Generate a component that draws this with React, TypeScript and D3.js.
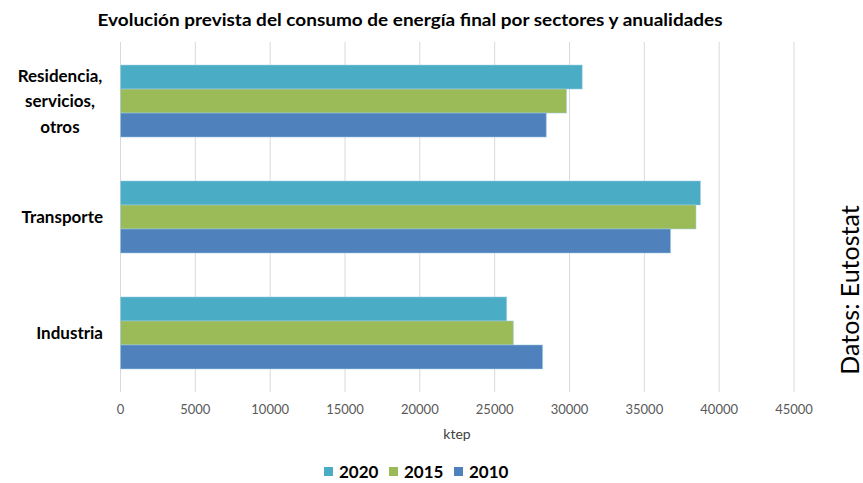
import React from "react";
import * as d3 from "d3";

const categories = ["Residencia, servicios, otros", "Transporte", "Industria"];
const categoryLines = [["Residencia,", "servicios,", "otros"], ["Transporte"], ["Industria"]];
const seriesNames = ["2020", "2015", "2010"];
const values2020 = [30850, 38750, 25800];
const values2015 = [29800, 38450, 26250];
const values2010 = [28450, 36750, 28200];
const seriesColors = ["#4BACC6", "#9BBB59", "#4F81BD"];
const xTicks = [0, 5000, 10000, 15000, 20000, 25000, 30000, 35000, 40000, 45000];

const W = 863, H = 483;
const font = "Lato, 'Open Sans', sans-serif";

export default function App() {
  const seriesValues = [values2020, values2015, values2010];
  const x = d3.scaleLinear().domain([0, 45000]).range([120.5, 794]);
  const y = d3.scaleBand().domain(categories).range([43, 391]).paddingInner(0.379).paddingOuter(0.19);
  const ys = d3.scaleBand().domain(seriesNames).range([0, y.bandwidth()]);
  const legendX = [324, 389, 454];

  return (
    <svg width={W} height={H} style={{ position: "absolute", left: 0, top: 0, background: "#fff" }}>
      <text x={410} y={26} textAnchor="middle" fontFamily={font} fontWeight="bold" fontSize={17}
        textLength={625} lengthAdjust="spacingAndGlyphs" fill="#000">
        Evolución prevista del consumo de energía final por sectores y anualidades
      </text>
      {xTicks.map((t) => (
        <g key={t}>
          <line x1={x(t)} x2={x(t)} y1={42} y2={392} stroke="#d9d9d9" strokeWidth={1} />
          <text x={x(t)} y={414} textAnchor="middle" fontFamily={font} fontSize={13} fill="#595959">{t}</text>
        </g>
      ))}
      {categories.map((c, ci) => (
        <g key={c}>
          {seriesNames.map((s, si) => (
            <rect key={s} x={x(0)} y={(y(c) ?? 0) + (ys(s) ?? 0)} width={x(seriesValues[si][ci]) - x(0)}
              height={ys.bandwidth()} fill={seriesColors[si]} stroke="#9fd0e6" strokeOpacity={0.5} strokeWidth={1} />
          ))}
          {categoryLines[ci].length > 1 ? (
            categoryLines[ci].map((ln, li) => (
              <text key={li} x={60} y={(y(c) ?? 0) + y.bandwidth() / 2 + (li - 1) * 25.5 + 6}
                textAnchor="middle" fontFamily={font} fontWeight="bold" fontSize={17} fill="#000">{ln}</text>
            ))
          ) : (
            <text x={103} y={(y(c) ?? 0) + y.bandwidth() / 2 + 6} textAnchor="end" fontFamily={font}
              fontWeight="bold" fontSize={17} fill="#000">{categoryLines[ci][0]}</text>
          )}
        </g>
      ))}
      <text x={457} y={439} textAnchor="middle" fontFamily={font} fontSize={14} fill="#404040">ktep</text>
      {seriesNames.map((s, si) => (
        <g key={s}>
          <rect x={legendX[si]} y={467} width={9} height={9} fill={seriesColors[si]} />
          <text x={legendX[si] + 15} y={478} fontFamily={font} fontWeight="bold" fontSize={17} fill="#000">{s}</text>
        </g>
      ))}
      <text transform="translate(859,290) rotate(-90)" textAnchor="middle" fontFamily={font} fontSize={25} fill="#000">
        Datos: Eutostat
      </text>
    </svg>
  );
}
